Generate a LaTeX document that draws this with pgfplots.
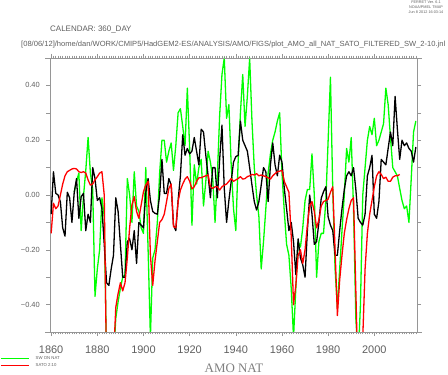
\documentclass[border=0pt]{standalone}
\usepackage{fontspec}
\setmainfont{Liberation Sans}
\newfontfamily\seriffont{Liberation Serif}
\usepackage{graphicx}
\usepackage{pgfplots}
\pgfplotsset{compat=1.18}
\definecolor{fgreen}{RGB}{0,255,0}
\definecolor{fred}{RGB}{255,0,0}
\definecolor{axgray}{RGB}{150,150,150}
\definecolor{txtgray}{RGB}{95,95,95}
\begin{document}
\begin{tikzpicture}[x=1bp,y=1bp]
\useasboundingbox (0,0) rectangle (448,374);
\node[anchor=base west, text=txtgray, font=\fontsize{8}{9}\selectfont, inner sep=0pt] at (50,343) {CALENDAR: 360\_DAY};
\node[anchor=base west, text=txtgray, inner sep=0pt] at (21,328) {\resizebox{424bp}{\height}{\fontsize{7.5}{9}\selectfont [08/06/12]/home/dan/WORK/CMIP5/HadGEM2-ES/ANALYSIS/AMO/FIGS/plot\_AMO\_all\_NAT\_SATO\_FILTERED\_SW\_2-10.jnl}};
\node[anchor=north, align=center, text=txtgray, font=\fontsize{3.8}{4.6}\selectfont, inner sep=0pt] at (426,373) {FERRET Ver. 6.1\\NOAA/PMEL TMAP\\Jun 8 2012 16:03:14};
\node[anchor=base, text=black!50, font=\seriffont\fontsize{13}{14}\selectfont, inner sep=0pt] at (234,1.5) {AMO NAT};
\begin{axis}[
  at={(50bp,42bp)}, anchor=south west,
  width=367bp, height=274bp, scale only axis,
  xmin=1859.5, xmax=2018.5, ymin=-0.5, ymax=0.5,
  axis line style={axgray, line width=0.8bp},
  every tick/.style={axgray, line width=0.6bp},
  tick align=outside,
  major tick length=4bp, minor tick length=2.3bp,
  xtick={1860,1880,1900,1920,1940,1960,1980,2000},
  xticklabels={1860,1880,1900,1920,1940,1960,1980,2000},
  minor xtick={1860,1861,...,2018},
  ytick={-0.5,-0.4,-0.3,-0.2,-0.1,0,0.1,0.2,0.3,0.4,0.5},
  yticklabels={,−0.40,,−0.20,,0.00,,0.20,,0.40,},
  xticklabel style={font=\fontsize{11}{12}\selectfont, text=txtgray, inner sep=0pt, anchor=north},
  yticklabel style={font=\fontsize{7.5}{9}\selectfont, text=txtgray, inner sep=0pt, anchor=east},
  xticklabel shift=10bp,
  yticklabel shift=6bp,
  legend style={at={(-0.1362,-0.0875)}, anchor=north west, draw=none, fill=none,
    font=\fontsize{4.3}{5}\selectfont, inner sep=0pt, row sep=2.6bp,
    nodes={inner sep=0pt, text=txtgray},
    /tikz/every odd column/.append style={column sep=6bp}},
  legend image code/.code={\draw[#1] (0bp,0bp) -- (28bp,0bp);},
  legend cell align=left,
]
\addplot[fgreen, line width=1.3bp, line join=round, forget plot] table {
1870 0.01
1871 0.05
1872 0.08
1873 -0.13
1874 -0.005
1875 0.09
1876 0.21
1877 0.08
1878 0.02
1879 -0.37
1880 -0.27
1881 -0.20
1882 -0.01
1883 -0.08
1884 -0.6
1885 -0.7
1886 -0.7
1887 -0.6
1888 -0.45
1889 -0.39
1890 -0.34
1891 -0.30
1892 -0.29
1893 0.06
1894 0.0
1895 -0.10
1896 0.085
1897 -0.04
1898 -0.06
1899 -0.12
1900 -0.14
1901 0.10
1902 -0.2
1903 -0.52
1904 -0.23
1905 -0.20
1906 -0.10
1907 0.08
1908 0.20
1909 0.20
1910 0.12
1911 0.16
1912 0.19
1913 0.09
1914 0.18
1915 0.30
1916 0.315
1917 0.25
1918 0.18
1919 0.39
1920 0.17
1921 -0.11
1922 0.11
1923 0.04
1924 0.10
1925 0.13
1926 -0.04
1927 0.05
1928 0.16
1929 0.12
1930 0.06
1931 -0.10
1932 0.07
1933 0.29
1934 0.44
1935 0.50
1936 0.28
1937 0.33
1938 0.11
1939 -0.05
1940 -0.13
1941 0.12
1942 0.30
1943 0.44
1944 0.25
1945 0.36
1946 0.50
1947 0.27
1948 0.10
1949 0.0
1950 -0.08
1951 -0.27
1952 -0.17
1953 -0.05
1954 0.08
1955 0.15
1956 0.20
1957 0.23
1958 0.27
1959 0.30
1960 0.08
1961 -0.06
1962 -0.18
1963 -0.22
1964 -0.34
1965 -0.52
1966 -0.34
1967 -0.17
1968 -0.19
1969 -0.12
1970 -0.02
1971 0.02
1972 0.02
1973 0.15
1974 0.0
1975 -0.30
1976 -0.17
1977 -0.14
1978 -0.14
1979 -0.02
1980 0.20
1981 0.43
1982 0.02
1983 -0.27
1984 -0.41
1985 -0.27
1986 -0.13
1987 0.0
1988 0.17
1989 0.12
1990 0.21
1991 -0.05
1992 -0.45
1993 -0.6
1994 -0.40
1995 0.0
1996 0.10
1997 0.20
1998 0.25
1999 0.22
2000 0.28
2001 0.18
2002 0.20
2003 0.23
2004 0.26
2005 0.39
2006 0.33
2007 0.21
2008 0.10
2009 0.085
2010 0.07
2011 0.024
2012 -0.02
2013 -0.05
2014 -0.04
2015 -0.10
2016 0.06
2017 0.23
2018 0.27
};
\addplot[black, line width=1.3bp, line join=round, forget plot] table {
1860 -0.07
1861 0.085
1862 0.006
1863 0.0
1864 -0.025
1865 -0.12
1866 -0.15
1867 0.01
1868 -0.01
1869 -0.10
1870 0.01
1871 0.06
1872 -0.085
1873 -0.006
1874 0.006
1875 -0.13
1876 -0.07
1877 -0.10
1878 0.10
1879 0.06
1880 -0.02
1881 -0.01
1882 -0.05
1883 -0.18
1884 -0.32
1885 -0.33
1886 -0.27
1887 -0.22
1888 -0.01
1889 -0.06
1890 -0.18
1891 -0.30
1892 -0.30
1893 -0.17
1894 -0.16
1895 -0.20
1896 -0.13
1897 -0.25
1898 -0.10
1899 -0.11
1900 -0.12
1901 0.01
1902 0.06
1903 -0.02
1904 -0.06
1905 -0.067
1906 -0.07
1907 0.0
1908 0.13
1909 0.006
1910 0.006
1911 0.06
1912 0.036
1913 -0.11
1914 -0.13
1915 -0.02
1916 0.07
1917 0.22
1918 0.145
1919 0.17
1920 0.15
1921 0.16
1922 0.21
1923 0.16
1924 0.11
1925 0.24
1926 0.23
1927 0.145
1928 0.07
1929 -0.01
1930 0.10
1931 0.10
1932 -0.01
1933 0.13
1934 0.255
1935 0.024
1936 -0.10
1937 -0.02
1938 0.05
1939 0.12
1940 0.14
1941 0.145
1942 0.27
1943 0.20
1944 0.18
1945 0.16
1946 0.10
1947 0.036
1948 -0.024
1949 -0.055
1950 -0.024
1951 0.036
1952 0.10
1953 0.085
1954 -0.024
1955 0.11
1956 0.19
1957 0.11
1958 0.07
1959 0.145
1960 0.12
1961 0.024
1962 -0.05
1963 -0.13
1964 -0.10
1965 -0.17
1966 -0.29
1967 -0.16
1968 -0.23
1969 -0.255
1970 -0.30
1971 -0.13
1972 0.0
1973 -0.07
1974 -0.18
1975 -0.17
1976 -0.10
1977 -0.012
1978 0.012
1979 0.03
1980 -0.08
1981 -0.11
1982 -0.13
1983 -0.22
1984 -0.22
1985 -0.13
1986 -0.05
1987 0.02
1988 0.07
1989 0.085
1990 0.07
1991 0.10
1992 0.02
1993 -0.085
1994 -0.10
1995 -0.11
1996 -0.07
1997 0.07
1998 0.10
1999 0.145
2000 -0.07
2001 -0.085
2002 -0.024
2003 0.13
2004 0.12
2005 0.11
2006 0.17
2007 0.23
2008 0.18
2009 0.36
2010 0.24
2011 0.13
2012 0.20
2013 0.18
2014 0.19
2015 0.17
2016 0.16
2017 0.12
2018 0.175
};
\addplot[fred, line width=1.3bp, line join=round, forget plot] table {
1860 -0.14
1861 -0.03
1862 -0.05
1863 -0.04
1864 0.0
1865 0.04
1866 0.07
1867 0.085
1868 0.09
1869 0.095
1870 0.097
1871 0.095
1872 0.085
1873 0.082
1874 0.085
1875 0.08
1876 0.055
1877 0.036
1878 0.04
1879 0.055
1880 0.067
1881 0.08
1882 0.085
1883 0.0
1884 -0.65
1885 -0.75
1886 -0.7
1887 -0.6
1888 -0.41
1889 -0.36
1890 -0.32
1891 -0.35
1892 -0.32
1893 -0.23
1894 -0.12
1895 -0.036
1896 -0.006
1897 -0.06
1898 -0.085
1899 -0.036
1900 0.012
1901 0.036
1902 0.05
1903 -0.22
1904 -0.33
1905 -0.24
1906 -0.17
1907 -0.10
1908 -0.09
1909 -0.07
1910 -0.024
1911 0.024
1912 0.04
1913 -0.115
1914 -0.12
1915 -0.024
1916 0.018
1917 0.04
1918 0.058
1919 0.067
1920 0.05
1921 0.022
1922 0.03
1923 0.05
1924 0.063
1925 0.063
1926 0.067
1927 0.07
1928 0.073
1929 0.03
1930 0.024
1931 0.03
1932 0.03
1933 0.018
1934 0.03
1935 0.036
1936 0.04
1937 0.05
1938 0.06
1939 0.05
1940 0.055
1941 0.06
1942 0.067
1943 0.058
1944 0.06
1945 0.067
1946 0.07
1947 0.075
1948 0.073
1949 0.078
1950 0.07
1951 0.073
1952 0.07
1953 0.067
1954 0.063
1955 0.058
1956 0.07
1957 0.078
1958 0.085
1959 0.087
1960 0.09
1961 0.05
1962 0.03
1963 0.01
1964 -0.15
1965 -0.40
1966 -0.33
1967 -0.22
1968 -0.20
1969 -0.25
1970 -0.20
1971 -0.11
1972 -0.04
1973 -0.024
1974 -0.06
1975 -0.12
1976 -0.09
1977 -0.04
1978 -0.024
1979 -0.02
1980 -0.015
1981 0.01
1982 0.03
1983 -0.20
1984 -0.44
1985 -0.31
1986 -0.22
1987 -0.14
1988 -0.09
1989 -0.05
1990 -0.02
1991 -0.01
1992 -0.35
1993 -0.70
1994 -0.65
1995 -0.52
1996 -0.27
1997 -0.14
1998 -0.07
1999 -0.02
2000 0.03
2001 0.07
2002 0.085
2003 0.075
2004 0.06
2005 0.065
2006 0.05
2007 0.05
2008 0.065
2009 0.07
2010 0.07
2011 0.075
};
\addlegendimage{color=fgreen, line width=1.5bp}
\addlegendentry{SW ON NAT}
\addlegendimage{color=fred, line width=1.5bp}
\addlegendentry{SATO 2:10}
\end{axis}
\draw[axgray, line width=0.8bp] (45,42) -- (422,42);
\draw[axgray, line width=0.8bp] (45,316) -- (422,316);
\end{tikzpicture}
\end{document}
